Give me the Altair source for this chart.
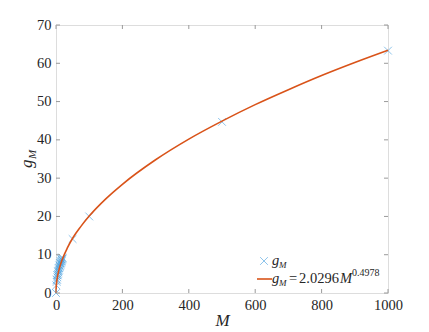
import altair as alt
import pandas as pd

# Data
M_pts = [0, 1, 2, 3, 4, 5, 6, 7, 8, 9, 10, 11, 12, 13, 14, 15, 16, 17, 18, 19, 20,
         2, 4, 6, 8, 10, 12, 14, 16, 18, 50, 100, 500, 1000]
g_pts = [0, 2.0, 2.9, 3.5, 4.1, 4.6, 5.0, 5.4, 5.8, 6.1, 6.5, 6.8, 7.1, 7.4, 7.7, 7.9, 8.2, 8.4, 8.7, 8.9, 9.1,
         3.4, 4.7, 5.7, 6.5, 7.2, 7.8, 8.3, 8.8, 9.3, 14.1, 20.0, 44.7, 63.3]

M_fit = [0, 0.5, 1, 2, 5, 10, 20, 35, 50, 75, 100, 150, 200, 300, 400, 500, 600, 700, 800, 900, 1000]
g_fit = [0, 1.44, 2.03, 2.87, 4.52, 6.39, 9.02, 11.9, 14.3, 17.4, 20.1, 24.6, 28.4, 34.8, 40.2, 44.9, 49.2, 53.1, 56.8, 60.2, 63.4]

x_ticks = [0, 200, 400, 600, 800, 1000]
y_ticks = [0, 10, 20, 30, 40, 50, 60, 70]

W, H = 332, 268
FONT = "Liberation Serif"
BLUE = "#4DA3E0"
ORANGE = "#D95319"
GREY = "#9a9a9a"
TXT = "#262626"
XSHAPE = "M-1,-1L1,1M-1,1L1,-1"

pts = pd.DataFrame({"M": M_pts, "g": g_pts})
fit = pd.DataFrame({"M": M_fit, "g": g_fit})
xt = pd.DataFrame({"M": x_ticks})
yt = pd.DataFrame({"g": y_ticks})

xs = alt.Scale(domain=[0, 1000], nice=False, zero=False)
ys = alt.Scale(domain=[0, 70], nice=False, zero=False)

xaxis = alt.Axis(values=x_ticks, format="d", title="M", titleFontStyle="italic", titleFont=FONT,
                 titleFontSize=17, titleFontWeight="normal", titleBaseline="alphabetic", titleY=32,
                 labelFont=FONT, labelFontSize=14.5, labelColor=TXT, labelFlush=False,
                 tickSize=0, labelPadding=5, domain=False, grid=False, titleColor=TXT)
yaxis = alt.Axis(values=y_ticks, format="d", title="", labelFont=FONT, labelFontSize=14.5,
                 labelColor=TXT, labelFlush=False, tickSize=0, labelPadding=5, domain=False, grid=False)

X = alt.X("M:Q", scale=xs, axis=xaxis, title="M")
Y = alt.Y("g:Q", scale=ys, axis=yaxis, title="")

points = alt.Chart(pts).mark_point(shape=XSHAPE, size=60, strokeWidth=0.9, color=BLUE, filled=False).encode(x=X, y=Y)

line = alt.Chart(fit).mark_line(color=ORANGE, strokeWidth=1.6, interpolate="monotone").encode(x=X, y=Y)

tk = dict(color=GREY, strokeWidth=1)
yl = alt.Chart(yt).mark_rule(**tk).encode(y=Y, x=alt.value(0), x2=alt.value(4))
yr = alt.Chart(yt).mark_rule(**tk).encode(y=Y, x=alt.value(W - 4), x2=alt.value(W))
xb = alt.Chart(xt).mark_rule(**tk).encode(x=X, y=alt.value(H), y2=alt.value(H - 4))
xtp = alt.Chart(xt).mark_rule(**tk).encode(x=X, y=alt.value(0), y2=alt.value(4))


def txt(s, x, y, size=14.5, style="normal", angle=0, baseline="alphabetic", align="left"):
    return alt.Chart(pd.DataFrame({"t": [s]})).mark_text(
        font=FONT, fontSize=size, fontStyle=style, color=TXT, align=align, baseline=baseline, angle=angle
    ).encode(text="t:N", x=alt.value(x), y=alt.value(y))


# y axis title g_M (rotated)
ytitle = txt("g", -24, 143, size=17, style="italic", angle=270, align="left")
ysub = txt("M", -20, 134, size=11, style="italic", angle=270, align="left")

# legend
leg_mark = alt.Chart(pd.DataFrame({"a": [0]})).mark_point(
    shape=XSHAPE, size=60, strokeWidth=0.9, color=BLUE, filled=False
).encode(x=alt.value(208), y=alt.value(236))
leg_line = alt.Chart(pd.DataFrame({"a": [0]})).mark_rule(color=ORANGE, strokeWidth=1.6).encode(
    x=alt.value(201), x2=alt.value(216), y=alt.value(254)
)
legend_texts = [
    txt("g", 216, 240, size=14.5, style="italic"),
    txt("M", 223, 243, size=9, style="italic"),
    txt("g", 216, 258, size=14.5, style="italic"),
    txt("M", 223, 261, size=9, style="italic"),
    txt("=", 233, 258, size=14.5),
    txt("2.0296", 243, 258, size=14.5),
    txt("M", 284, 258, size=14.5, style="italic"),
    txt("0.4978", 296, 251, size=10),
]

chart = alt.layer(
    points, line, yl, yr, xb, xtp, ytitle, ysub, leg_mark, leg_line, *legend_texts
).properties(
    width=W, height=H, autosize="none",
    padding={"left": 48, "top": 17, "right": 30, "bottom": 40},
).configure_view(stroke=GREY, strokeWidth=1).configure(background="white")

chart.save("out.html", embed_options={"renderer": "svg", "actions": False})
